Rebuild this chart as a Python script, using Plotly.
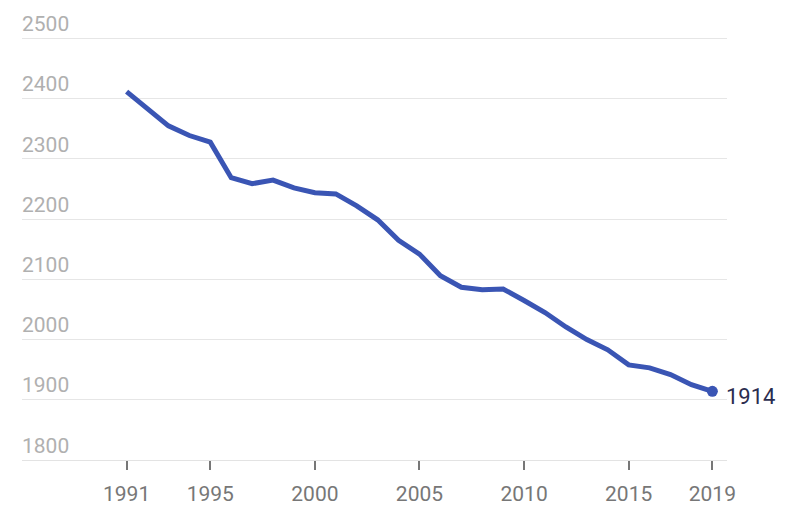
import plotly.graph_objects as go

years = list(range(1991, 2020))
values = [2412, 2383, 2355, 2339, 2328, 2269, 2259, 2265, 2252, 2244,
          2242, 2222, 2199, 2165, 2142, 2106, 2087, 2083, 2084, 2065,
          2045, 2021, 2000, 1983, 1958, 1953, 1942, 1925, 1914]
x_ticks = [1991, 1995, 2000, 2005, 2010, 2015, 2019]
y_ticks = [1800, 1900, 2000, 2100, 2200, 2300, 2400, 2500]

LINE = "#3a55b4"

fig = go.Figure()
fig.add_trace(go.Scatter(x=years, y=values, mode="lines",
                         line=dict(color=LINE, width=5),
                         hoverinfo="skip"))
fig.add_trace(go.Scatter(x=[years[-1]], y=[values[-1]], mode="markers",
                         marker=dict(color=LINE, size=11),
                         hoverinfo="skip"))
fig.add_annotation(x=years[-1], y=values[-1], text=str(values[-1]),
                   showarrow=False, xanchor="left", yanchor="middle",
                   xshift=12, yshift=-5,
                   font=dict(family="Roboto", size=22, color="#2b2d4f"))

fig.update_layout(
    width=777, height=498,
    margin=dict(l=14, r=58, t=0, b=44),
    paper_bgcolor="white", plot_bgcolor="white",
    showlegend=False,
    xaxis=dict(range=[1986, 2019.7], tickvals=x_ticks,
               showgrid=False, zeroline=False,
               showline=True, linecolor="#e3e3e3", linewidth=1,
               ticks="outside", ticklen=9, tickcolor="#777777", tickwidth=1.5,
               tickfont=dict(family="Roboto", size=21, color="#777777"),
               ticklabelstandoff=6),
    yaxis=dict(range=[1800, 2550.8], tickvals=y_ticks,
               showgrid=True, gridcolor="#e6e6e6", gridwidth=1,
               zeroline=False, showline=False,
               ticklabelposition="inside top", ticklabelstandoff=-3,
               tickfont=dict(family="Roboto", size=21, color="#b0b0b0")),
)

fig.write_html("out.html")
